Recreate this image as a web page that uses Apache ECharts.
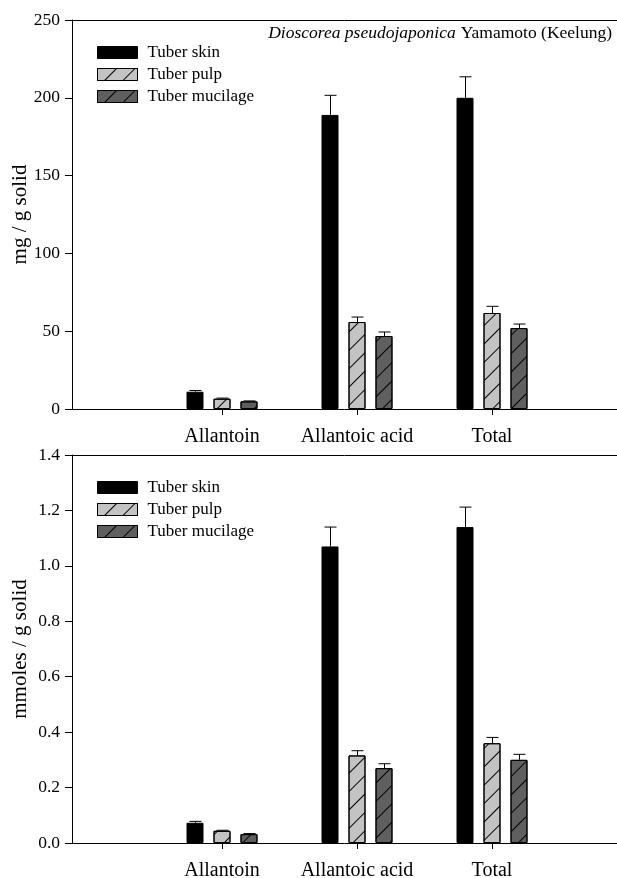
<!DOCTYPE html>
<html>
<head>
<meta charset="utf-8">
<script src="https://cdn.jsdelivr.net/npm/echarts@6/dist/echarts.min.js"></script>
<style>
html,body{margin:0;padding:0;background:#fff;}
#chart{width:617px;height:878px;}
</style>
</head>
<body>
<div id="chart"></div>
<script>
// ---- data ----
const categories = ['Allantoin', 'Allantoic acid', 'Total'];
const seriesNames = ['Tuber skin', 'Tuber pulp', 'Tuber mucilage'];

// mg / g solid
const massSkin = [11.1, 189, 200];
const massSkinErr = [0.8, 12.6, 13.5];
const massPulp = [6.6, 55.9, 61.7];
const massPulpErr = [0.4, 3.2, 4.3];
const massMuc = [4.9, 46.9, 52.0];
const massMucErr = [0.3, 2.6, 2.6];

// mmoles / g solid
const molSkin = [0.073, 1.07, 1.14];
const molSkinErr = [0.005, 0.07, 0.072];
const molPulp = [0.044, 0.316, 0.36];
const molPulpErr = [0.002, 0.017, 0.021];
const molMuc = [0.032, 0.27, 0.30];
const molMucErr = [0.002, 0.016, 0.02];

const massTicks = [0, 50, 100, 150, 200, 250];
const molTicks = [0.0, 0.2, 0.4, 0.6, 0.8, 1.0, 1.2, 1.4];

// ---- styles ----
const FONT = 'Liberation Serif';
const fills = ['#000000', '#c3c3c3', '#5f5f5f'];
const hatch = {
  symbol: 'rect', symbolSize: 1,
  dashArrayX: [1, 0], dashArrayY: [1, 12],
  rotation: -Math.PI / 4, color: '#000'
};
const decals = [null, hatch, hatch];
const offsets = [-27, 0, 27];

const chart = echarts.init(document.getElementById('chart'), null, {renderer: 'canvas'});

const gbase = {outerBoundsMode: 'none', containLabel: false};
const grids = [
  Object.assign({left: 72, right: 0, top: 20, height: 389}, gbase),
  Object.assign({left: 154.5, width: 405, top: 20, height: 389}, gbase),
  Object.assign({left: 72, right: 0, top: 455, height: 388}, gbase),
  Object.assign({left: 154.5, width: 405, top: 455, height: 388}, gbase)
];

function frameX(gi) {
  return [
    {type: 'value', gridIndex: gi, min: 0, max: 1, position: 'bottom',
     axisLine: {show: true, onZero: false, lineStyle: {color: '#000', width: 1}},
     axisTick: {show: false}, axisLabel: {show: false}, splitLine: {show: false}},
    {type: 'value', gridIndex: gi, min: 0, max: 1, position: 'top',
     axisLine: {show: true, onZero: false, lineStyle: {color: '#000', width: 1}},
     axisTick: {show: false}, axisLabel: {show: false}, splitLine: {show: false}}
  ];
}
function catX(gi) {
  return {type: 'category', gridIndex: gi, data: categories,
    axisLine: {show: false},
    axisTick: {show: true, alignWithLabel: true, interval: 0, length: 6, inside: false, lineStyle: {color: '#000'}},
    axisLabel: {interval: 0, hideOverlap: false, margin: 18, color: '#000', fontFamily: FONT, fontSize: 20},
    splitLine: {show: false}};
}
function yAx(gi, min, max, interval, name, fmt, show) {
  return {type: 'value', gridIndex: gi, min: min, max: max, interval: interval,
    name: show ? name : '', nameLocation: 'middle', nameGap: 41, nameRotate: 90,
    nameMoveOverlap: false,
    nameTextStyle: {fontFamily: FONT, fontSize: 21, color: '#000'},
    axisLine: {show: show, onZero: false, lineStyle: {color: '#000', width: 1}},
    axisTick: {show: show, length: 7, lineStyle: {color: '#000'}},
    axisLabel: {show: show, margin: 12, color: '#000', fontFamily: FONT, fontSize: 17.5, formatter: fmt},
    splitLine: {show: false}};
}

const xAxes = [].concat(frameX(0), [catX(1)], frameX(2), [catX(3)]);
const yAxes = [
  yAx(0, 0, 250, 50, 'mg / g solid', v => String(v), true),
  yAx(1, 0, 250, 50, '', v => String(v), false),
  yAx(2, 0, 1.4, 0.2, 'mmoles / g solid', v => v.toFixed(1), true),
  yAx(3, 0, 1.4, 0.2, '', v => v.toFixed(1), false)
];

function barSeries(name, data, k, xi, yi) {
  const it = {color: fills[k], borderColor: '#000', borderWidth: 1};
  if (decals[k]) it.decal = decals[k];
  return {type: 'bar', name: name, xAxisIndex: xi, yAxisIndex: yi, data: data,
    barWidth: 17, barGap: '58.8%', itemStyle: it, emphasis: {disabled: true}, animation: false, z: 2};
}
function errSeries(name, vals, errs, k, xi, yi) {
  const d = vals.map((v, i) => [i, v, v + errs[i]]);
  return {type: 'custom', name: name + ' err', xAxisIndex: xi, yAxisIndex: yi, data: d,
    animation: false, z: 3, silent: true,
    renderItem: function (params, api) {
      const base = api.coord([api.value(0), api.value(1)]);
      const top = api.coord([api.value(0), api.value(2)]);
      const x = Math.round(base[0] + offsets[k]) + 0.5;
      const style = {stroke: '#000', lineWidth: 1, fill: null};
      return {type: 'group', children: [
        {type: 'line', shape: {x1: x, y1: base[1], x2: x, y2: top[1]}, style: style},
        {type: 'line', shape: {x1: x - 6, y1: top[1], x2: x + 6, y2: top[1]}, style: style}
      ]};
    }};
}

const massVals = [massSkin, massPulp, massMuc];
const massErrs = [massSkinErr, massPulpErr, massMucErr];
const molVals = [molSkin, molPulp, molMuc];
const molErrs = [molSkinErr, molPulpErr, molMucErr];

const series = [];
seriesNames.forEach((n, k) => series.push(barSeries(n, massVals[k], k, 2, 1)));
seriesNames.forEach((n, k) => series.push(errSeries(n, massVals[k], massErrs[k], k, 2, 1)));
seriesNames.forEach((n, k) => series.push(barSeries(n, molVals[k], k, 5, 3)));
seriesNames.forEach((n, k) => series.push(errSeries(n, molVals[k], molErrs[k], k, 5, 3)));

function legendAt(top) {
  return {show: true, orient: 'vertical', left: 92, top: top, data: seriesNames,
    icon: 'rect', itemWidth: 40, itemHeight: 12, itemGap: 5, selectedMode: false,
    textStyle: {fontFamily: FONT, fontSize: 17, color: '#000', padding: [0, 0, 0, 5]},
    itemStyle: {borderColor: '#000', borderWidth: 1}};
}

chart.setOption({
  animation: false,
  backgroundColor: '#fff',
  aria: {enabled: false},
  title: {
    text: '{i|Dioscorea pseudojaponica} {n|Yamamoto (Keelung)}',
    right: 0, top: 19,
    textStyle: {fontWeight: 'normal', rich: {
      i: {fontFamily: FONT, fontSize: 17.5, fontStyle: 'italic', fontWeight: 'normal', color: '#000'},
      n: {fontFamily: FONT, fontSize: 17.5, fontWeight: 'normal', color: '#000'}
    }}
  },
  legend: [legendAt(39), legendAt(474)],
  grid: grids,
  xAxis: xAxes,
  yAxis: yAxes,
  series: series
});
</script>
</body>
</html>
